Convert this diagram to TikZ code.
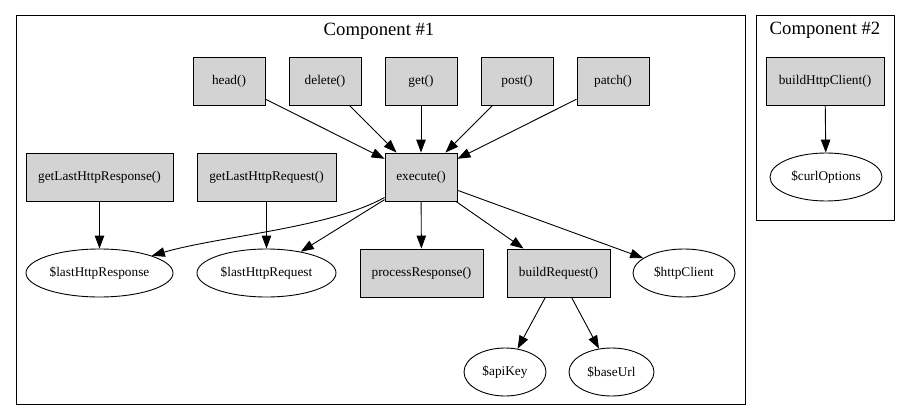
\documentclass[tikz,border=0pt]{standalone}
\usepackage{fontspec}
\setmainfont{Liberation Serif}
\usetikzlibrary{shapes.geometric,arrows.meta}

\definecolor{boxgrey}{RGB}{211,211,211}

\begin{document}
\begin{tikzpicture}[x=1pt,y=-1pt,
  method/.style={draw,fill=boxgrey,rectangle,minimum height=48,inner sep=0,
    font=\fontsize{13.3}{15}\selectfont},
  member/.style={draw,ellipse,minimum height=48,inner sep=0,
    font=\fontsize{13.3}{15}\selectfont},
  cluster/.style={draw,line width=1pt},
  title/.style={font=\fontsize{18.7}{21}\selectfont},
  every path/.style={line width=0.9pt},
  calls/.style={-{Triangle[length=13pt,width=9.5pt]}}]

  \useasboundingbox (0,0) rectangle (911,420);

  % Component #1
  \begin{scope}
    \draw [cluster] (16,16) rectangle (745,404);
    \node [title] (t1) at (379,31) {Component \#1};

    \node [method,minimum width=72] (head) at (229,81) {head()};
    \node [method,minimum width=72] (del) at (325,81) {delete()};
    \node [method,minimum width=72] (get) at (421,81) {get()};
    \node [method,minimum width=72] (post) at (517,81) {post()};
    \node [method,minimum width=72] (patch) at (613,81) {patch()};

    \node [method,minimum width=147] (glresp) at (99.5,177) {getLastHttpResponse()};
    \node [method,minimum width=139] (glreq) at (266.5,177) {getLastHttpRequest()};
    \node [method,minimum width=72] (exec) at (421,177) {execute()};

    \node [member,minimum width=147] (lresp) at (99.5,273) {\$lastHttpResponse};
    \node [member,minimum width=139] (lreq) at (266.5,273) {\$lastHttpRequest};
    \node [method,minimum width=123] (procresp) at (421.5,273) {processResponse()};
    \node [method,minimum width=103] (buildreq) at (558.5,273) {buildRequest()};
    \node [member,minimum width=102] (client) at (684,273) {\$httpClient};

    \node [member,minimum width=82] (apikey) at (505,372) {\$apiKey};
    \node [member,minimum width=85] (baseurl) at (611.5,372) {\$baseUrl};
  \end{scope}

  % Component #2
  \begin{scope}
    \draw [cluster] (756,16) rectangle (894,220);
    \node [title] (t2) at (825,30) {Component \#2};

    \node [method,minimum width=118] (buildclient) at (825,81) {buildHttpClient()};
    \node [member,minimum width=112] (curl) at (826,177) {\$curlOptions};
  \end{scope}

  \draw [calls] (head) -- (exec);
  \draw [calls] (del) -- (exec);
  \draw [calls] (get) -- (exec);
  \draw [calls] (post) -- (exec);
  \draw [calls] (patch) -- (exec);

  \draw [calls] (glresp) -- (lresp);
  \draw [calls] (glreq) -- (lreq);
  \draw [calls] (exec.south west) ++(0,-4) .. controls (330,228) and (220,236) .. (lresp.north east);
  \draw [calls] (exec) -- (lreq);
  \draw [calls] (exec) -- (procresp);
  \draw [calls] (exec) -- (buildreq);
  \draw [calls] (exec) -- (client);

  \draw [calls] (buildreq) -- (apikey);
  \draw [calls] (buildreq) -- (baseurl);

  \draw [calls] (buildclient) -- (curl);
\end{tikzpicture}
\end{document}
